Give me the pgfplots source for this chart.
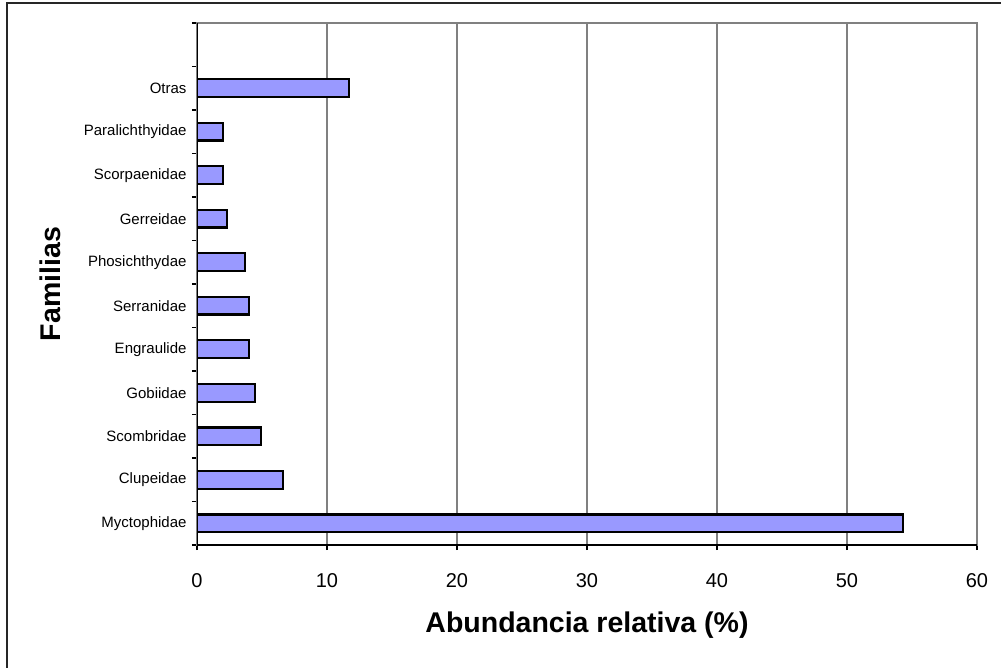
\documentclass[border=0pt]{standalone}
\usepackage{pgfplots}
\pgfplotsset{compat=1.18}
\usepackage{fontspec}
\setmainfont{Liberation Sans}
\definecolor{barfill}{HTML}{9999FF}
\definecolor{gridgray}{HTML}{808080}
\begin{document}
\begin{tikzpicture}[x=1pt,y=1pt]
\useasboundingbox (0,0) rectangle (1001,667);
\draw[line width=1.5pt, black!85] (7,-5) -- (7,664) -- (1010,664);
\begin{axis}[
  at={(197pt,122pt)}, anchor=south west,
  width=780pt, height=522pt, scale only axis,
  xmin=0, xmax=60, ymin=-0.5, ymax=11.5,
  xtick={0,10,...,60}, xtick pos=bottom, tick align=outside,
  ytick={0,...,10}, ytick pos=left,
  yticklabels={Myctophidae,Clupeidae,Scombridae,Gobiidae,Engraulide,Serranidae,Phosichthydae,Gerreidae,Scorpaenidae,Paralichthyidae,Otras},
  minor ytick={-0.5,0.5,...,11.5},
  major tick length=5pt, minor tick length=5pt,
  major y tick style={draw=none},
  minor y tick style={black, line width=1.2pt},
  xtick style={black, line width=1.2pt},
  xmajorgrids, major x grid style={gridgray, line width=1.2pt},
  axis line style={gridgray, line width=1.2pt},
  /pgf/number format/assume math mode=true,
  xticklabel style={font=\fontsize{20}{24}\selectfont, yshift=-20pt},
  yticklabel style={font=\fontsize{15}{18}\selectfont, xshift=-2pt},
  xlabel={Abundancia relativa (\%)},
  ylabel={Familias},
  xlabel style={font=\bfseries\fontsize{28.5}{32}\selectfont, at={(axis description cs:0.5,-0.153)}, anchor=center},
  ylabel style={font=\bfseries\fontsize{28.5}{32}\selectfont, at={(axis description cs:-0.1875,0.5)}, anchor=center},
]
\addplot[xbar, bar width=17.7pt, fill=barfill, draw=black, line width=2.2pt] coordinates {
  (54.3,0) (6.64,1) (4.92,2) (4.49,3) (4.02,4) (4.02,5) (3.72,6) (2.33,7) (2.0,8) (2.0,9) (11.69,10)
};
\draw[black, line width=1.5pt] (rel axis cs:0,1) -- (rel axis cs:0,0) -- (rel axis cs:1,0);
\end{axis}
\end{tikzpicture}
\end{document}
